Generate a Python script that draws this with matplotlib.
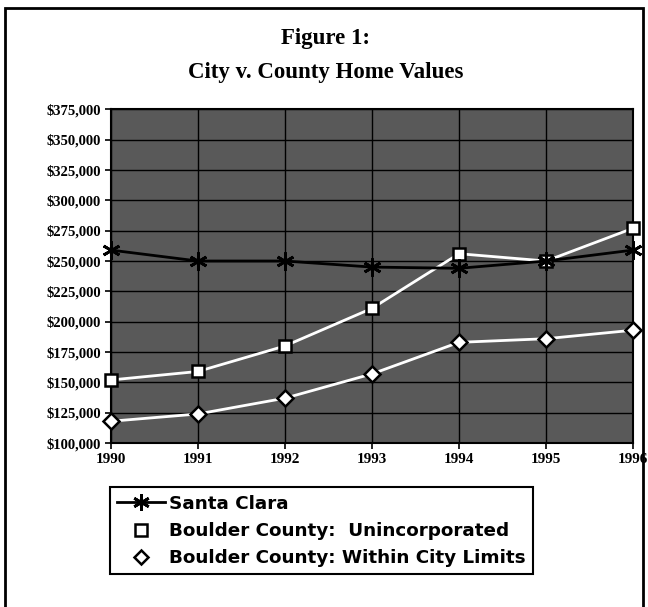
import matplotlib.pyplot as plt
from matplotlib.patches import Rectangle
from matplotlib.ticker import FuncFormatter, MultipleLocator

years = [1990, 1991, 1992, 1993, 1994, 1995, 1996]
santa_clara = [259000, 250000, 250000, 245000, 244000, 250000, 259000]
boulder_uninc = [152000, 159000, 180000, 211000, 256000, 250000, 277000]
boulder_city = [118000, 124000, 137000, 157000, 183000, 186000, 193000]

fig = plt.figure(figsize=(6.48, 6.07), dpi=100)
ax = fig.add_axes([0.171, 0.27, 0.806, 0.55])
ax.set_facecolor('#595959')

ax.plot(years, boulder_uninc, color='white', lw=2, marker='s', ms=9,
        mfc='white', mec='black', mew=1.8, zorder=3, clip_on=False)
ax.plot(years, boulder_city, color='white', lw=2, marker='D', ms=8,
        mfc='white', mec='black', mew=1.8, zorder=3, clip_on=False)
ax.plot(years, santa_clara, color='black', lw=2, marker=(6, 2, 0), ms=13,
        mew=2, zorder=4, clip_on=False)

ax.set_xlim(1990, 1996)
ax.set_ylim(100000, 375000)
ax.yaxis.set_major_locator(MultipleLocator(25000))
ax.yaxis.set_major_formatter(FuncFormatter(lambda v, p: '${:,.0f}'.format(v)))
ax.set_xticks(years)
ax.grid(True, color='black', lw=1)
ax.set_axisbelow(True)
for s in ax.spines.values():
    s.set_linewidth(1.5)
ax.tick_params(length=4, width=1.2, pad=3)
for lab in ax.get_yticklabels():
    lab.set_fontfamily('Liberation Serif')
    lab.set_fontweight('bold')
    lab.set_fontsize(10.5)
for lab in ax.get_xticklabels():
    lab.set_fontfamily('Liberation Serif')
    lab.set_fontweight('bold')
    lab.set_fontsize(11)

fig.text(0.502, 0.936, 'Figure 1:', ha='center', va='center',
         fontfamily='Liberation Serif', fontweight='bold', fontsize=16.5)
fig.text(0.502, 0.881, 'City v. County Home Values', ha='center', va='center',
         fontfamily='Liberation Serif', fontweight='bold', fontsize=16.5)

h1 = plt.Line2D([], [], color='black', lw=2, marker=(6, 2, 0), ms=12, mew=2)
h2 = plt.Line2D([], [], ls='none', marker='s', ms=8, mfc='white', mec='black', mew=1.8)
h3 = plt.Line2D([], [], ls='none', marker='D', ms=7, mfc='white', mec='black', mew=1.8)
leg = fig.legend([h1, h2, h3],
                 ['Santa Clara', 'Boulder County:  Unincorporated',
                  'Boulder County: Within City Limits'],
                 loc='upper left', bbox_to_anchor=(0.17, 0.197),
                 prop={'family': 'DejaVu Sans', 'weight': 'bold', 'size': 13.2},
                 frameon=True, fancybox=False, edgecolor='black', framealpha=1,
                 handlelength=2.6, handletextpad=0.2, labelspacing=0.5,
                 borderpad=0.4, borderaxespad=0)
leg.get_frame().set_linewidth(1.5)

# outer frame
fig.patches.append(Rectangle((0.008, -0.01), 0.984, 0.997, transform=fig.transFigure,
                             fill=False, edgecolor='black', lw=2))

fig.savefig('out.png', dpi=100)
